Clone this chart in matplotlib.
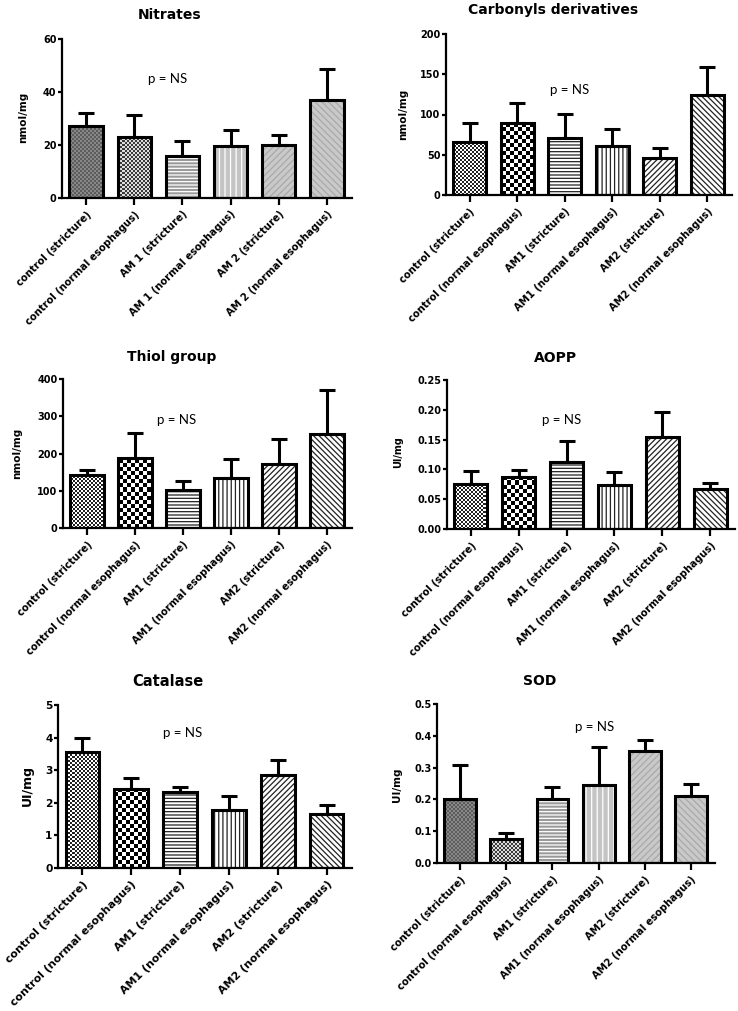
import numpy as np
import matplotlib
matplotlib.use("Agg")
import matplotlib.pyplot as plt

# ---------------- data ----------------
labels_space = ["control (stricture)", "control (normal esophagus)", "AM 1 (stricture)",
                "AM 1 (normal esophagus)", "AM 2 (stricture)", "AM 2 (normal esophagus)"]
labels_nospace = ["control (stricture)", "control (normal esophagus)", "AM1 (stricture)",
                  "AM1 (normal esophagus)", "AM2 (stricture)", "AM2 (normal esophagus)"]

nitrates_mean = [27.0, 23.0, 15.7, 19.8, 20.1, 37.0]
nitrates_err = [5.0, 8.5, 5.7, 5.8, 3.6, 11.7]

carbonyls_mean = [65.5, 89.0, 70.5, 60.5, 46.0, 124.5]
carbonyls_err = [23.5, 25.0, 30.5, 21.5, 13.0, 34.0]

thiol_mean = [142, 188, 102, 133, 171, 253]
thiol_err = [15, 67, 25, 53, 69, 117]

aopp_mean = [0.0755, 0.088, 0.113, 0.073, 0.155, 0.0665]
aopp_err = [0.0215, 0.011, 0.034, 0.023, 0.042, 0.010]

catalase_mean = [3.55, 2.41, 2.33, 1.79, 2.85, 1.65]
catalase_err = [0.45, 0.34, 0.15, 0.43, 0.46, 0.28]

sod_mean = [0.202, 0.075, 0.202, 0.244, 0.352, 0.210]
sod_err = [0.107, 0.019, 0.036, 0.121, 0.036, 0.038]

W, H = 738, 1011
DPI = 100
fig = plt.figure(figsize=(W / DPI, H / DPI), dpi=DPI)
plt.rcParams['hatch.linewidth'] = 0.9

BOLD = dict(family=["DejaVu Sans"], weight="bold")


def rect(l, r, b, t):
    return [l / W, 1 - b / H, (r - l) / W, (b - t) / H]


def checker(ax, patch, cell, c1, c2, z):
    bb = ax.get_position()
    wpx = int(round(bb.width * W))
    hpx = int(round(bb.height * H))
    ii, jj = np.indices((hpx, wpx))
    arr = ((ii // cell) + (jj // cell)) % 2
    x0, x1 = ax.get_xlim()
    y0, y1 = ax.get_ylim()
    cmap = matplotlib.colors.ListedColormap([c1, c2])
    im = ax.imshow(arr, extent=(x0, x1, y0, y1), cmap=cmap, interpolation="nearest",
                   aspect="auto", zorder=z, origin="lower")
    im.set_clip_path(patch)
    ax.set_xlim(x0, x1)
    ax.set_ylim(y0, y1)


def panel(box, means, errs, labels, ymax, ystep, yfmt, ylabel, title, title_xy,
          p_xy, ylab_xy, grey=False, fs=1.0, ylfs=7.5):
    ax = fig.add_axes(rect(*box))
    x = np.arange(len(means))
    ax.set_xlim(-0.5, 5.52)
    ax.set_ylim(0, ymax)
    width = 0.69
    if grey:
        faces = ["#6f6f6f", "#a8a8a8", "#9a9a9a", "#c4c4c4", "#c9c9c9", "#c9c9c9"]
        hatches = [None, None, "-----", "|||", "/////", "\\\\\\\\\\"]
        hcols = [None, None, "white", "white", "#a9a9a9", "#a9a9a9"]
        checks = [(2, "#5c5c5c", "#888888"), (2, "#3a3a3a", "#dcdcdc"), None, None, None, None]
    else:
        faces = ["white"] * 6
        hatches = [None, None, "-----", "||||", "//////", "\\\\\\\\\\\\"]
        hcols = [None, None, "#222222", "#222222", "#222222", "#222222"]
        checks = [(2, "#222222", "white"), (4, "black", "white"), None, None, None, None]
    for i in range(len(means)):
        b = ax.bar(x[i], means[i], width, color=faces[i], hatch=hatches[i],
                   edgecolor=hcols[i] if hcols[i] else faces[i], linewidth=0, zorder=1)
        if checks[i] is not None:
            c, c1, c2 = checks[i]
            checker(ax, b.patches[0], c, c1, c2, 1.5)
    ax.errorbar(x, means, yerr=[np.zeros(len(errs)), errs], fmt="none", ecolor="black",
                elinewidth=2.2, capsize=6, capthick=2.2, zorder=2.5)
    ax.bar(x, means, width, facecolor="none", edgecolor="black", linewidth=2.2, zorder=3)

    yt = np.arange(0, ymax + ystep / 2, ystep)
    ax.set_yticks(yt)
    ax.set_yticklabels([yfmt.format(v) for v in yt], fontsize=7 * fs, **BOLD)
    ax.set_xticks(x)
    ax.set_xticklabels(labels, rotation=45, ha="right", rotation_mode="anchor",
                       fontsize=7.2 * fs, **BOLD)
    for s in ["top", "right"]:
        ax.spines[s].set_visible(False)
    for s in ["left", "bottom"]:
        ax.spines[s].set_linewidth(1.6)
    ax.tick_params(axis="y", length=3, width=1.6, pad=1)
    ax.tick_params(axis="x", length=5, width=1.6, pad=3)
    ax.set_facecolor("none")

    fig.text(title_xy[0] / W, 1 - title_xy[1] / H, title, ha="center", va="center",
             fontsize=10 * min(fs, 1.05), **BOLD)
    fig.text(p_xy[0] / W, 1 - p_xy[1] / H, "p = NS", ha="center", va="center",
             fontsize=9.5, family=["Lato", "DejaVu Sans"])
    fig.text(ylab_xy[0] / W, 1 - ylab_xy[1] / H, ylabel, ha="center", va="center",
             rotation=90, fontsize=ylfs, **BOLD)
    return ax


panel((62, 352, 198, 39), nitrates_mean, nitrates_err, labels_space, 60, 20, "{:.0f}",
      "nmol/mg", "Nitrates", (170, 15), (168, 79), (23, 117), grey=True)
panel((446, 732, 195, 34), carbonyls_mean, carbonyls_err, labels_nospace, 200, 50, "{:.0f}",
      "nmol/mg", "Carbonyls derivatives", (553, 10), (570, 90), (403, 114))
panel((63, 352, 528, 379), thiol_mean, thiol_err, labels_nospace, 400, 100, "{:.0f}",
      "nmol/mg", "Thiol group", (172, 357), (177, 420), (17, 453))
panel((447, 735, 529, 380), aopp_mean, aopp_err, labels_nospace, 0.25, 0.05, "{:.2f}",
      "UI/mg", "AOPP", (556, 358), (562, 420), (398, 452), ylfs=7)
panel((58, 352, 868, 705), catalase_mean, catalase_err, labels_nospace, 5, 1, "{:.0f}",
      "UI/mg", "Catalase", (168, 682), (183, 733), (27, 785), fs=1.1, ylfs=9)
panel((437, 715, 863, 704), sod_mean, sod_err, labels_nospace, 0.5, 0.1, "{:.1f}",
      "UI/mg", "SOD", (540, 681), (595, 727), (397, 785), grey=True, ylfs=7.5)

fig.savefig("out.png", dpi=DPI)
